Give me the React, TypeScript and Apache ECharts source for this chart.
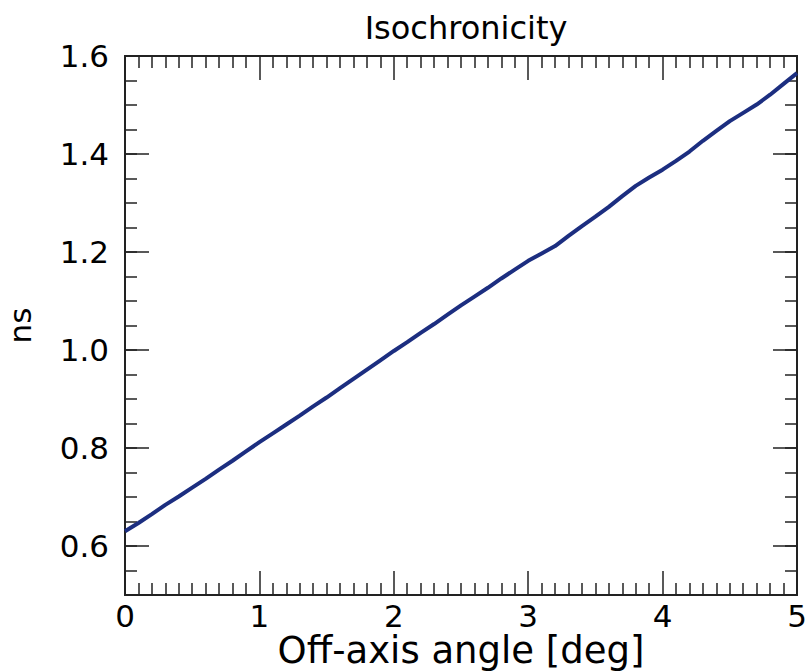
import React, { useEffect, useRef } from "react";
import * as echarts from "echarts";

const angles = [0, 0.1, 0.2, 0.3, 0.4, 0.5, 0.6, 0.7, 0.8, 0.9, 1.0, 1.1, 1.2, 1.3, 1.4, 1.5, 1.6, 1.7, 1.8, 1.9, 2.0, 2.1, 2.2, 2.3, 2.4, 2.5, 2.6, 2.7, 2.8, 2.9, 3.0, 3.1, 3.2, 3.3, 3.4, 3.5, 3.6, 3.7, 3.8, 3.9, 4.0, 4.1, 4.2, 4.3, 4.4, 4.5, 4.6, 4.7, 4.8, 4.9, 5.0];
const isochronicity = [0.630, 0.647, 0.665, 0.684, 0.701, 0.719, 0.737, 0.756, 0.774, 0.793, 0.812, 0.830, 0.848, 0.866, 0.885, 0.903, 0.922, 0.941, 0.960, 0.979, 0.998, 1.016, 1.035, 1.053, 1.072, 1.091, 1.109, 1.127, 1.146, 1.164, 1.182, 1.197, 1.212, 1.233, 1.253, 1.272, 1.292, 1.314, 1.335, 1.352, 1.368, 1.386, 1.405, 1.427, 1.447, 1.467, 1.484, 1.501, 1.521, 1.543, 1.565];
const yMajorTicks = [0.6, 0.8, 1.0, 1.2, 1.4, 1.6];
const yMinorTicks = [0.5, 0.55, 0.6, 0.65, 0.7, 0.75, 0.8, 0.85, 0.9, 0.95, 1.0, 1.05, 1.1, 1.15, 1.2, 1.25, 1.3, 1.35, 1.4, 1.45, 1.5, 1.55, 1.6];

const FONT = "DejaVu Sans";
const AX = "#222";

export default function App() {
  const ref = useRef<HTMLDivElement>(null);
  useEffect(() => {
    if (!ref.current) return;
    const chart = echarts.init(ref.current, null, { renderer: "svg" });
    const xBase = (pos: "bottom" | "top", labels: boolean) => ({
      type: "value",
      position: pos,
      min: 0,
      max: 5,
      interval: 1,
      name: labels ? "Off-axis angle [deg]" : "",
      nameLocation: "middle",
      nameGap: 37,
      nameMoveOverlap: false,
      nameTextStyle: { fontFamily: FONT, fontSize: 37, color: "#000" },
      axisLine: { show: true, onZero: false, lineStyle: { color: AX, width: 2 } },
      axisTick: { show: true, inside: true, length: 24, lineStyle: { color: AX, width: 1.5 } },
      minorTick: { show: true, splitNumber: 10, length: 12, lineStyle: { color: AX, width: 1.5 } },
      splitLine: { show: false },
      minorSplitLine: { show: false },
      axisLabel: { show: labels, margin: 5, fontFamily: FONT, fontSize: 31, color: "#000" },
    });
    const yBase = (pos: "left" | "right", major: boolean, labels: boolean) => ({
      type: "value",
      position: pos,
      min: 0.5,
      max: 1.6,
      name: labels ? "ns" : "",
      nameLocation: "middle",
      nameGap: 90,
      nameRotate: 90,
      nameMoveOverlap: false,
      nameTextStyle: { fontFamily: FONT, fontSize: 31, color: "#000" },
      axisLine: { show: true, onZero: false, lineStyle: { color: AX, width: 2 } },
      axisTick: {
        show: true,
        inside: true,
        length: major ? 24 : 12,
        customValues: major ? yMajorTicks : yMinorTicks,
        lineStyle: { color: AX, width: 1.5 },
      },
      splitLine: { show: false },
      axisLabel: {
        show: labels,
        margin: 16,
        customValues: yMajorTicks,
        formatter: (v: number) => v.toFixed(1),
        fontFamily: FONT,
        fontSize: 31,
        color: "#000",
      },
    });
    chart.setOption({
      animation: false,
      backgroundColor: "#fff",
      title: {
        text: "Isochronicity",
        left: 461,
        top: 7,
        textAlign: "center",
        textStyle: { fontFamily: FONT, fontSize: 32, fontWeight: "normal", color: "#000" },
      },
      grid: { left: 125, right: 11, top: 56, bottom: 76, containLabel: false, outerBoundsMode: "none" },
      xAxis: [xBase("bottom", true), xBase("top", false)],
      yAxis: [yBase("left", true, true), yBase("left", false, false), yBase("right", true, false), yBase("right", false, false)],
      series: [
        {
          type: "line",
          xAxisIndex: 0,
          yAxisIndex: 0,
          data: angles.map((a, i) => [a, isochronicity[i]]),
          showSymbol: false,
          lineStyle: { color: "#1c2e80", width: 4 },
          clip: false,
        },
      ],
    });
    return () => chart.dispose();
  }, []);
  return <div ref={ref} style={{ position: "fixed", left: 0, top: 0, width: 808, height: 671 }} />;
}
